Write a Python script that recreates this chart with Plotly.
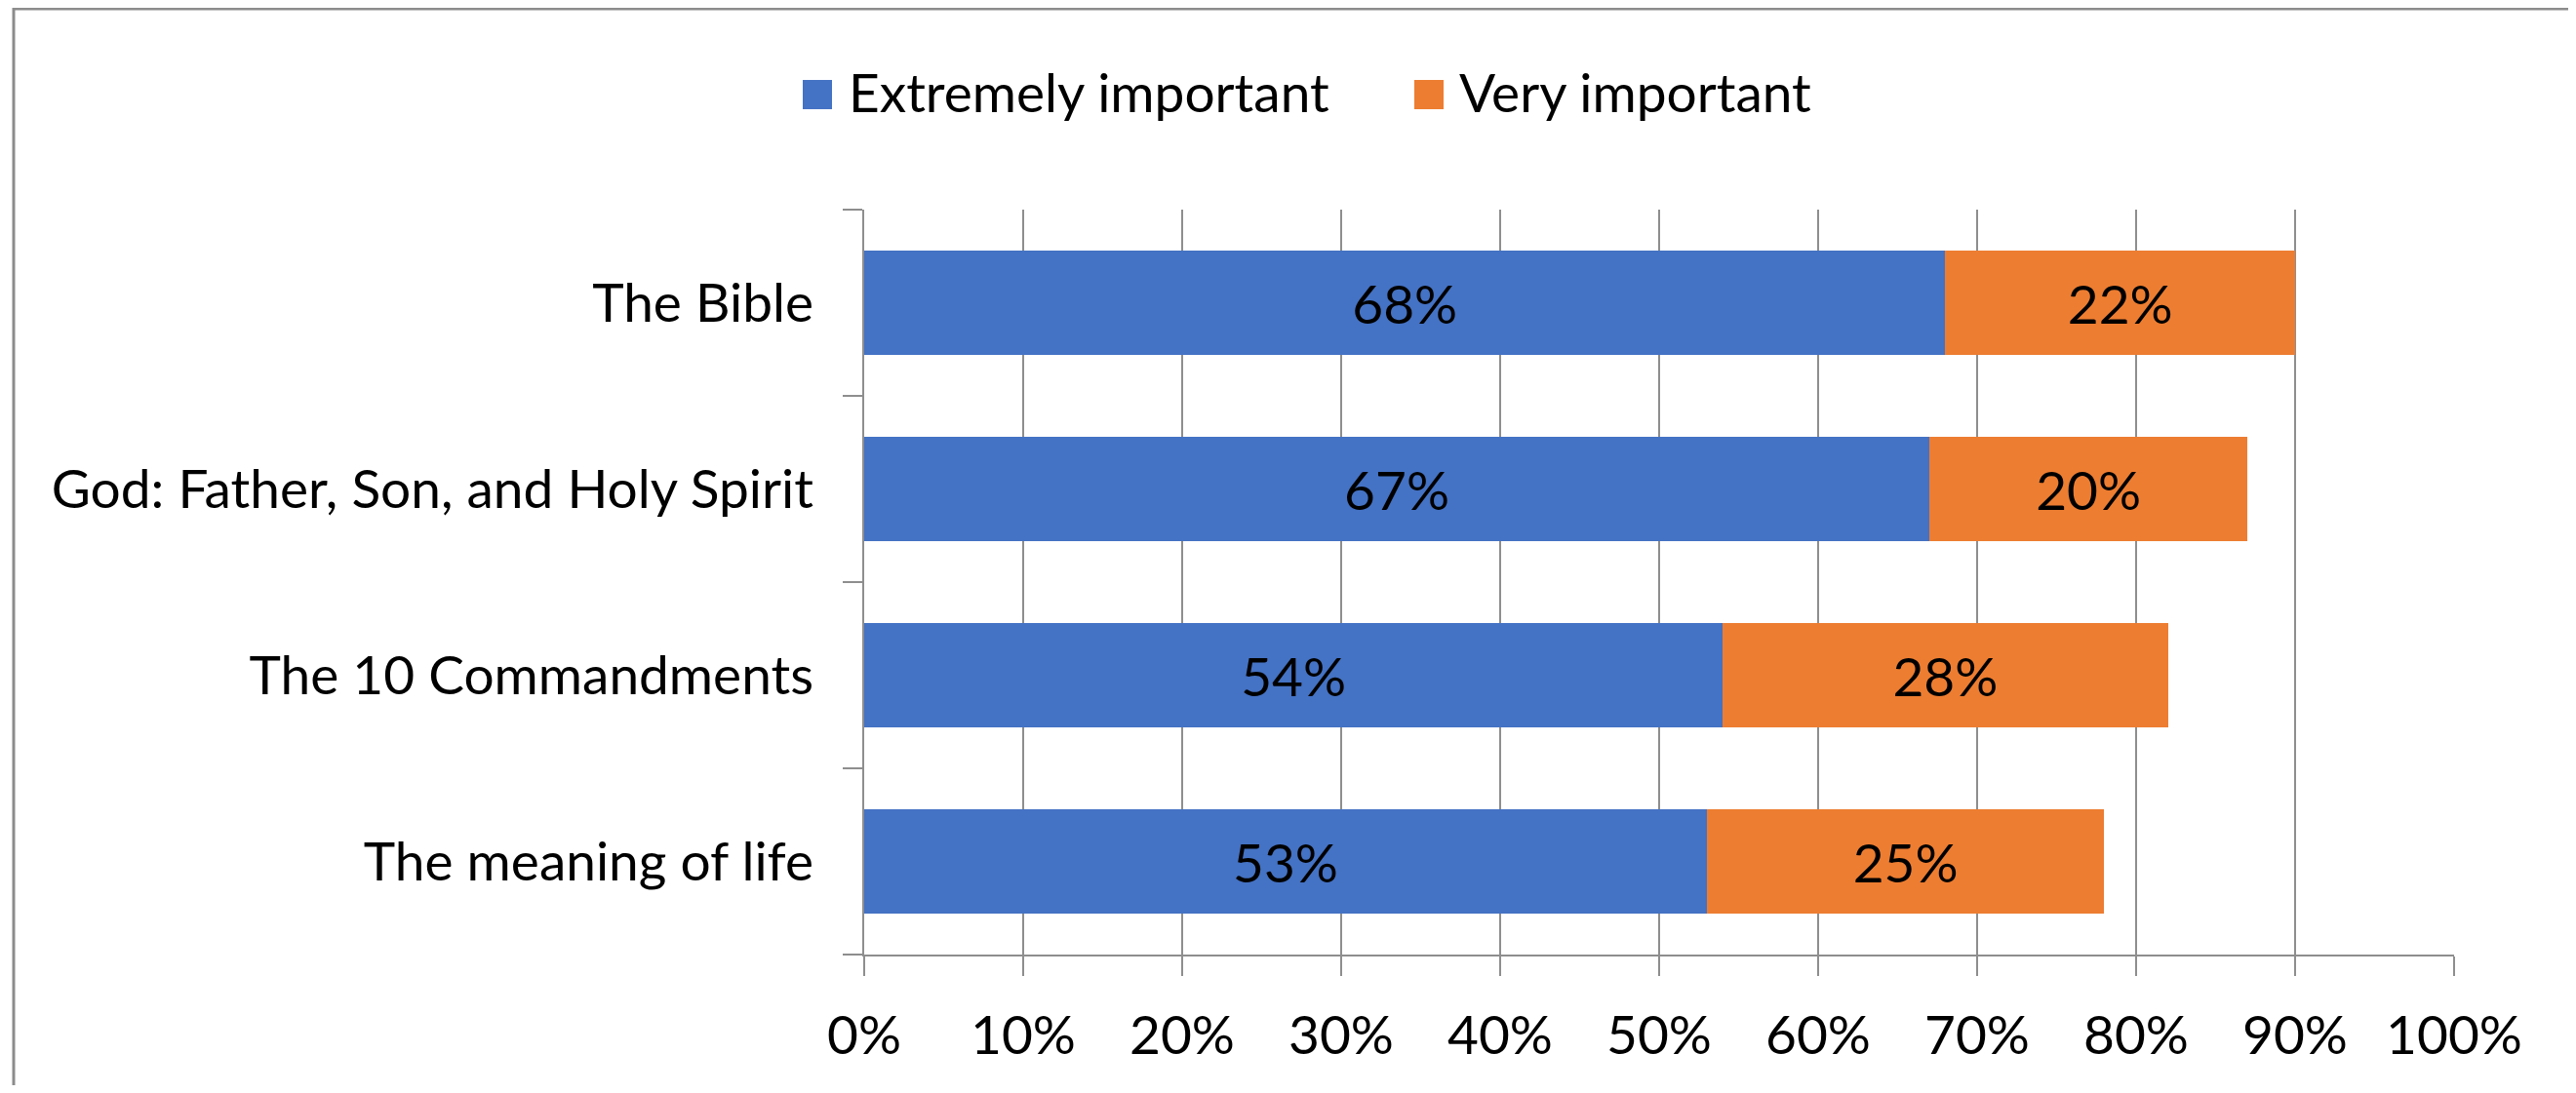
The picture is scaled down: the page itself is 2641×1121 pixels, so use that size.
import plotly.graph_objects as go

# ---- data ----
categories = ["The Bible", "God: Father, Son, and Holy Spirit", "The 10 Commandments", "The meaning of life"]
extremely_important = [68, 67, 54, 53]
very_important = [22, 20, 28, 25]
series_names = ["Extremely important", "Very important"]
x_tick_values = [0, 10, 20, 30, 40, 50, 60, 70, 80, 90, 100]
x_tick_labels = ["0%", "10%", "20%", "30%", "40%", "50%", "60%", "70%", "80%", "90%", "100%"]

# ---- style ----
W, H = 2641, 1121          # reference picture size
OFF = 8                    # page body margin of the browser
ML, MR, MT, MB = 886, 125, 215, 142   # plot area edges in reference pixels
FW, FH = W - 2 * OFF, H - 2 * OFF
PW, PH = W - ML - MR, H - MT - MB
FONT = "Lato"
FS = 55
BLUE = "#4472C4"
ORANGE = "#ED7D31"
GRID = "#8E8E8E"


def px_x(px):
    return (px - ML) / PW


def px_y(py):
    return (H - MB - py) / PH


fig = go.Figure()
for name, vals, col in [(series_names[0], extremely_important, BLUE),
                        (series_names[1], very_important, ORANGE)]:
    fig.add_trace(go.Bar(
        name=name, y=categories, x=vals, orientation="h",
        marker=dict(color=col, line=dict(width=0)),
        text=[f"{v}%" for v in vals], textposition="inside",
        insidetextanchor="middle", constraintext="none",
        textfont=dict(family=FONT, size=FS, color="#000000"),
        width=0.56, showlegend=False, hoverinfo="x+y+name",
    ))

shapes = [
    # chart border (top & left visible)
    dict(type="rect", xref="paper", yref="paper",
         x0=px_x(14), y0=px_y(9), x1=px_x(2700), y1=px_y(1200),
         line=dict(color="#8C8C8C", width=3), fillcolor="rgba(0,0,0,0)", layer="below"),
    # legend swatches
    dict(type="rect", xref="paper", yref="paper",
         x0=px_x(823), x1=px_x(853), y0=px_y(112), y1=px_y(82),
         fillcolor=BLUE, line=dict(width=0)),
    dict(type="rect", xref="paper", yref="paper",
         x0=px_x(1450), x1=px_x(1480), y0=px_y(112), y1=px_y(82),
         fillcolor=ORANGE, line=dict(width=0)),
]
annotations = [
    dict(text=series_names[0], xref="paper", yref="paper", x=px_x(868), y=px_y(94),
         xanchor="left", yanchor="middle", showarrow=False,
         font=dict(family=FONT, size=FS, color="#000000")),
    dict(text=series_names[1], xref="paper", yref="paper", x=px_x(1494), y=px_y(94),
         xanchor="left", yanchor="middle", showarrow=False,
         font=dict(family=FONT, size=FS, color="#000000")),
]

fig.update_layout(
    width=FW, height=FH, barmode="stack",
    margin=dict(l=ML - OFF, r=MR - OFF, t=MT - OFF, b=MB - OFF, pad=0),
    paper_bgcolor="white", plot_bgcolor="white",
    font=dict(family=FONT, size=FS, color="#000000"),
    shapes=shapes, annotations=annotations, showlegend=False,
)
fig.update_xaxes(
    range=[0, 100], tickmode="array", tickvals=x_tick_values, ticktext=x_tick_labels,
    showgrid=True, gridcolor=GRID, gridwidth=2,
    showline=True, linecolor=GRID, linewidth=2,
    ticks="outside", ticklen=20, tickwidth=2, tickcolor=GRID,
    tickfont=dict(family=FONT, size=FS, color="#000000"),
    ticklabelstandoff=14, zeroline=False, fixedrange=True,
)
fig.update_yaxes(
    categoryorder="array", categoryarray=categories[::-1],
    range=[-0.5, 3.5],
    showline=True, linecolor=GRID, linewidth=2,
    ticks="outside", tickson="boundaries", ticklen=20, tickwidth=2, tickcolor=GRID,
    showgrid=False, tickfont=dict(family=FONT, size=FS, color="#000000"),
    ticklabelstandoff=39, fixedrange=True,
)

fig.write_html("out.html")
